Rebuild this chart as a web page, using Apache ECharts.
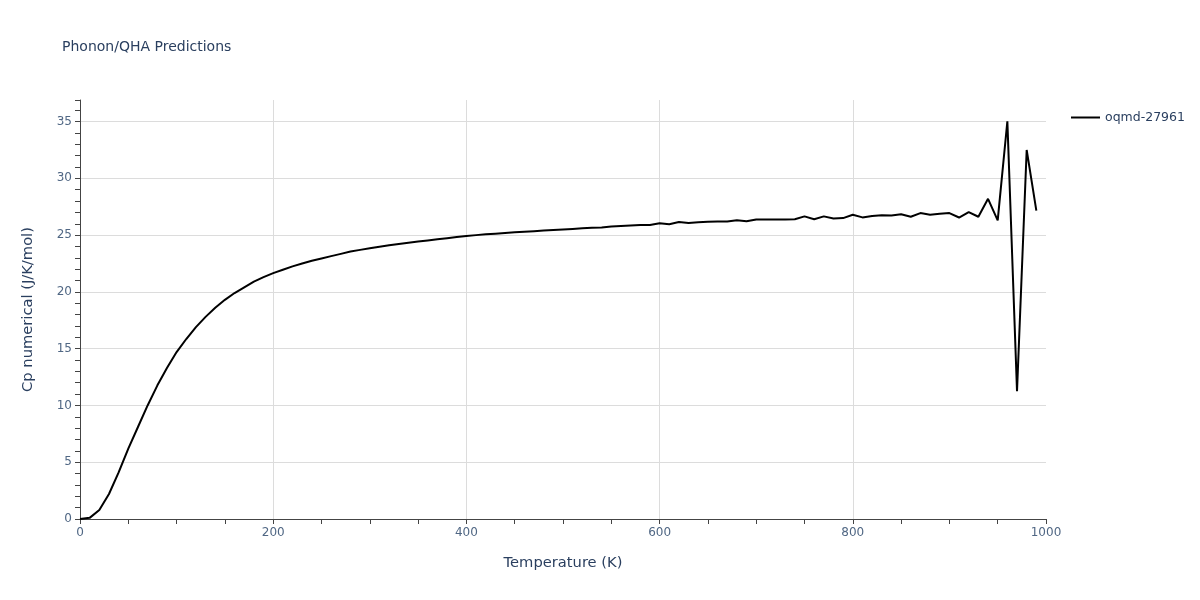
<!DOCTYPE html>
<html>
<head>
<meta charset="utf-8">
<script src="https://cdn.jsdelivr.net/npm/echarts@6/dist/echarts.min.js"></script>
<style>html,body{margin:0;padding:0;background:#fff;}#c{width:1200px;height:600px;}</style>
</head>
<body>
<div id="c"></div>
<script>
const seriesName = 'oqmd-27961';
const temperatures = [0,10,20,30,40,50,60,70,80,90,100,110,120,130,140,150,160,170,180,190,
  200,210,220,230,240,250,260,270,280,290,300,310,320,330,340,350,360,370,380,390,
  400,410,420,430,440,450,460,470,480,490,500,510,520,530,540,550,560,570,580,590,
  600,610,620,630,640,650,660,670,680,690,700,710,720,730,740,750,760,770,780,790,
  800,810,820,830,840,850,860,870,880,890,900,910,920,930,940,950,960,970,980,990];
const cpValues = [0,0.1,0.8,2.2,4.1,6.2,8.1,10.0,11.75,13.3,14.7,15.85,16.9,17.8,18.6,19.3,19.9,20.4,20.9,21.3,
  21.65,21.95,22.25,22.5,22.75,22.95,23.15,23.35,23.55,23.7,23.85,23.98,24.1,24.22,24.33,24.43,24.53,24.63,24.73,24.83,
  24.93,25.0,25.07,25.13,25.19,25.25,25.3,25.35,25.4,25.45,25.5,25.55,25.6,25.65,25.68,25.75,25.8,25.85,25.9,25.9,
  26.05,25.95,26.15,26.07,26.13,26.18,26.2,26.2,26.3,26.22,26.38,26.38,26.38,26.38,26.4,26.65,26.4,26.65,26.47,26.5,
  26.8,26.56,26.68,26.75,26.73,26.83,26.62,26.94,26.8,26.88,26.94,26.55,27.03,26.62,28.2,26.3,35.03,11.25,32.5,27.15];

const chart = echarts.init(document.getElementById('c'));
const font = '"DejaVu Sans", Verdana, sans-serif';
const txt = '#2a3f5f';
const tick = '#506784';
chart.setOption({
  animation: false,
  textStyle: {fontFamily: font},
  title: {
    text: 'Phonon/QHA Predictions',
    left: 57, top: 35,
    textStyle: {fontFamily: font, fontSize: 14, fontWeight: 'normal', color: txt}
  },
  legend: {
    left: 1066, top: 106,
    itemWidth: 29, itemHeight: 2, itemGap: 6,
    textStyle: {fontFamily: font, fontSize: 12.5, color: txt},
    data: [{name: seriesName, icon: 'rect'}]
  },
  grid: {left: 80, right: 154, top: 100, bottom: 81},
  xAxis: {
    type: 'value', min: 0, max: 1000, interval: 200,
    name: 'Temperature (K)', nameLocation: 'middle', nameGap: 37,
    nameTextStyle: {fontFamily: font, fontSize: 14.7, color: txt},
    axisLine: {show: true, lineStyle: {color: '#444', width: 1}},
    axisTick: {show: true, length: 5, lineStyle: {color: '#444'}},
    minorTick: {show: true, splitNumber: 4, length: 5, lineStyle: {color: '#444'}},
    axisLabel: {fontFamily: font, fontSize: 12, color: tick, margin: 8, formatter: v => String(v)},
    splitLine: {show: true, showMinLine: false, showMaxLine: false, lineStyle: {color: '#dcdcdc', width: 1}}
  },
  yAxis: {
    type: 'value', min: 0, max: 36.9, interval: 5,
    name: 'Cp numerical (J/K/mol)', nameLocation: 'middle', nameGap: 44,
    nameTextStyle: {fontFamily: font, fontSize: 14.7, color: txt},
    axisLine: {show: true, lineStyle: {color: '#444', width: 1}},
    axisTick: {show: true, length: 5, lineStyle: {color: '#444'}},
    minorTick: {show: true, splitNumber: 5, length: 5, lineStyle: {color: '#444'}},
    axisLabel: {fontFamily: font, fontSize: 12, color: tick, margin: 8, showMaxLabel: false},
    splitLine: {show: true, showMinLine: false, showMaxLine: false, lineStyle: {color: '#dcdcdc', width: 1}}
  },
  series: [{
    name: seriesName,
    type: 'line',
    symbol: 'none',
    data: temperatures.map((t, i) => [t, cpValues[i]]),
    lineStyle: {color: '#000', width: 2},
    itemStyle: {color: '#000'}
  }]
});
</script>
</body>
</html>
